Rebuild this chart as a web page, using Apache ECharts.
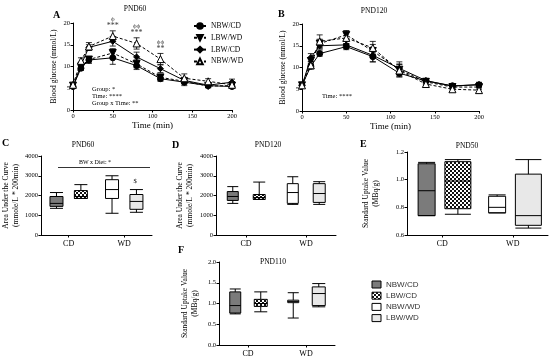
<!DOCTYPE html>
<html><head><meta charset="utf-8">
<script src="https://cdn.jsdelivr.net/npm/echarts@6/dist/echarts.min.js"></script>
<style>html,body{margin:0;padding:0;background:#fff}#c{width:550px;height:358px}</style>
</head><body><div id="c"></div>
<script>
// ---------- DATA ----------
const timePoints = [0, 10, 20, 50, 80, 110, 140, 170, 200];
const groupNames = ['NBW/CD', 'LBW/WD', 'LBW/CD', 'NBW/WD'];

// PND60 glucose (mean) and error
const pnd60_NBWCD = [5.4, 9.6, 11.5, 12.0, 10.2, 7.2, 6.4, 5.6, 5.4];
const pnd60_LBWWD = [5.6, 10.0, 11.6, 13.1, 10.6, 7.5, 6.6, 5.5, 5.6];
const pnd60_LBWCD = [5.3, 10.3, 14.4, 15.8, 12.2, 9.5, 6.8, 5.7, 6.4];
const pnd60_NBWWD = [5.8, 11.3, 14.6, 17.0, 15.3, 11.7, 7.3, 6.6, 5.8];
const pnd60_NBWCD_err = [0.3, 0.5, 0.8, 1.5, 0.9, 0.6, 0.8, 0.4, 0.4];
const pnd60_LBWWD_err = [0.3, 0.6, 0.6, 1.0, 0.9, 0.6, 0.6, 0.4, 0.4];
const pnd60_LBWCD_err = [0.3, 0.7, 0.6, 1.1, 1.1, 0.9, 0.7, 0.5, 0.7];
const pnd60_NBWWD_err = [0.3, 0.7, 0.9, 1.2, 1.3, 1.3, 1.0, 0.6, 0.5];

// PND120 glucose
const pnd120_NBWCD = [5.9, 10.3, 13.2, 14.8, 12.5, 8.7, 6.9, 5.8, 6.0];
const pnd120_LBWWD = [5.9, 11.5, 15.5, 17.5, 13.8, 9.5, 6.7, 5.5, 5.5];
const pnd120_LBWCD = [5.8, 12.3, 15.0, 15.2, 12.8, 9.8, 7.0, 5.7, 6.1];
const pnd120_NBWWD = [5.9, 10.5, 16.0, 16.8, 14.5, 9.3, 6.2, 5.0, 4.8];
const pnd120_NBWCD_err = [0.3, 0.6, 0.6, 0.7, 1.2, 0.8, 0.5, 0.5, 0.5];
const pnd120_LBWWD_err = [0.3, 0.8, 1.0, 1.0, 1.5, 1.2, 0.6, 0.5, 0.5];
const pnd120_LBWCD_err = [0.3, 0.9, 0.8, 0.8, 1.5, 1.5, 0.5, 0.5, 0.5];
const pnd120_NBWWD_err = [0.3, 0.8, 1.5, 1.3, 1.5, 1.5, 0.8, 0.5, 0.5];

// significance marks on PND60 (above NBW/WD)
const sigTimes = [50, 80, 110];
const sigPhi = ['ϕ', 'ϕϕ', 'ϕϕ'];
const sigStars = ['***', '***', '**'];

// Box plots: [min, Q1, median, Q3, max] for categories CD, WD
const dietCategories = ['CD', 'WD'];
const boxLegend = ['NBW/CD', 'LBW/CD', 'NBW/WD', 'LBW/WD'];
const aucPND60_NBW = [[1350, 1450, 1600, 1950, 2150], [1100, 1850, 2300, 2800, 3000]];
const aucPND60_LBW = [[1850, 1850, 1950, 2250, 2550], [1150, 1300, 1700, 2050, 2300]];
const aucPND120_NBW = [[1600, 1750, 1950, 2200, 2450], [1550, 1600, 2150, 2600, 2950]];
const aucPND120_LBW = [[1800, 1800, 1900, 2050, 2680], [1550, 1650, 2100, 2600, 2700]];
const suvPND50_NBW = [[0.74, 0.74, 0.92, 1.115, 1.125], [0.76, 0.76, 0.80, 0.88, 0.89]];
const suvPND50_LBW = [[0.75, 0.79, 0.99, 1.13, 1.145], [0.65, 0.67, 0.74, 1.04, 1.145]];
const suvPND110_NBW = [[0.75, 0.77, 0.95, 1.28, 1.35], [0.65, 1.02, 1.05, 1.08, 1.26]];
const suvPND110_LBW = [[0.80, 0.93, 1.00, 1.10, 1.28], [0.92, 0.95, 1.24, 1.40, 1.48]];

// ---------- STYLE ----------
const SERIF = 'Liberation Serif';
const pat = document.createElement('canvas');
pat.width = 4; pat.height = 4;
(function(){ const g = pat.getContext('2d'); g.fillStyle = '#fff'; g.fillRect(0,0,4,4);
  g.fillStyle = '#111'; g.fillRect(0,0,2,2); g.fillRect(2,2,2,2); })();
const checker = { image: pat, repeat: 'repeat' };
const boxFill = { 'NBW/CD': '#7b7b7b', 'LBW/CD': checker, 'NBW/WD': '#ffffff', 'LBW/WD': '#e8e8e8' };

const chart = echarts.init(document.getElementById('c'), null, { renderer: 'canvas' });

const tickLabel = { fontFamily: SERIF, fontSize: 6.5, color: '#000', margin: 3 };
const axLine = { show: true, lineStyle: { color: '#000', width: 1 } };
const axTick = { show: true, length: 2.5, lineStyle: { color: '#000' } };

function valY(gi, min, max, interval, name, gap, dec) {
  return {
    type: 'value', gridIndex: gi, min, max, interval,
    axisLine: axLine, axisTick: axTick, splitLine: { show: false },
    axisLabel: Object.assign({}, tickLabel, { formatter: v => dec ? v.toFixed(dec) : String(v) }),
    name, nameLocation: 'middle', nameGap: gap,
    nameTextStyle: { fontFamily: SERIF, fontSize: 7.5, color: '#000', lineHeight: 10 }
  };
}
function timeX(gi) {
  return {
    type: 'value', gridIndex: gi, min: 0, max: 200, interval: 50,
    axisLine: axLine, axisTick: axTick, splitLine: { show: false },
    axisLabel: tickLabel,
    name: 'Time (min)', nameLocation: 'middle', nameGap: 11,
    nameTextStyle: { fontFamily: SERIF, fontSize: 9, color: '#000' }
  };
}
function catX(gi) {
  return {
    type: 'category', gridIndex: gi, data: dietCategories,
    axisLine: axLine, axisTick: { show: true, alignWithLabel: true, length: 2.5, lineStyle: { color: '#000' } },
    axisLabel: { fontFamily: SERIF, fontSize: 8, color: '#000', margin: 5 }
  };
}

const markers = {
  'NBW/CD': { symbol: 'circle', size: 6, fill: '#000', dash: 'solid' },
  'LBW/WD': { symbol: 'triangle', size: 7, fill: '#000', dash: [3, 2], rotate: 180 },
  'LBW/CD': { symbol: 'diamond', size: 6, fill: '#000', dash: 'solid' },
  'NBW/WD': { symbol: 'triangle', size: 7, fill: '#fff', dash: [3, 2] }
};

function errRender(params, api) {
  const x = api.value(0), y = api.value(1), e = api.value(2);
  const hi = api.coord([x, y + e]), lo = api.coord([x, y - e]);
  const w = 3, st = { stroke: '#000', lineWidth: 0.8 };
  return { type: 'group', children: [
    { type: 'line', shape: { x1: hi[0], y1: hi[1], x2: lo[0], y2: lo[1] }, style: st },
    { type: 'line', shape: { x1: hi[0] - w, y1: hi[1], x2: hi[0] + w, y2: hi[1] }, style: st },
    { type: 'line', shape: { x1: lo[0] - w, y1: lo[1], x2: lo[0] + w, y2: lo[1] }, style: st }
  ]};
}

function glucoseSeries(gi, name, vals, errs) {
  const m = markers[name];
  return [
    { type: 'custom', name: 'err-' + gi + '-' + name, xAxisIndex: gi, yAxisIndex: gi,
      renderItem: errRender, data: timePoints.map((t, i) => [t, vals[i], errs[i]]), z: 3, silent: true },
    { type: 'line', name, xAxisIndex: gi, yAxisIndex: gi,
      data: timePoints.map((t, i) => [t, vals[i]]),
      symbol: m.symbol, symbolSize: m.size, symbolRotate: m.rotate || 0, showAllSymbol: true,
      itemStyle: { color: m.fill, borderColor: '#000', borderWidth: 1 },
      lineStyle: { color: '#000', width: 1, type: m.dash }, z: 4, animation: false }
  ];
}

function boxItems(values, groupsPerCat) {
  return values.map((v, i) => ({ value: v, itemStyle: { color: boxFill[groupsPerCat[i]], borderColor: '#000', borderWidth: 1 } }));
}
function boxSeries(gi, nbw, lbw, wN, wL) {
  const base = { type: 'boxplot', xAxisIndex: gi, yAxisIndex: gi, animation: false,
    itemStyle: { borderColor: '#000', borderWidth: 1 } };
  return [
    Object.assign({}, base, { name: 'NBW', boxWidth: [wN, wN], data: boxItems(nbw, ['NBW/CD', 'NBW/WD']) }),
    Object.assign({}, base, { name: 'LBW', boxWidth: [wL, wL], data: boxItems(lbw, ['LBW/CD', 'LBW/WD']) })
  ];
}

let series = [];
series = series.concat(glucoseSeries(0, 'NBW/CD', pnd60_NBWCD, pnd60_NBWCD_err));
series = series.concat(glucoseSeries(0, 'LBW/WD', pnd60_LBWWD, pnd60_LBWWD_err));
series = series.concat(glucoseSeries(0, 'LBW/CD', pnd60_LBWCD, pnd60_LBWCD_err));
series = series.concat(glucoseSeries(0, 'NBW/WD', pnd60_NBWWD, pnd60_NBWWD_err));
series = series.concat(glucoseSeries(1, 'NBW/CD', pnd120_NBWCD, pnd120_NBWCD_err));
series = series.concat(glucoseSeries(1, 'LBW/WD', pnd120_LBWWD, pnd120_LBWWD_err));
series = series.concat(glucoseSeries(1, 'LBW/CD', pnd120_LBWCD, pnd120_LBWCD_err));
series = series.concat(glucoseSeries(1, 'NBW/WD', pnd120_NBWWD, pnd120_NBWWD_err));

// significance labels
series.push({
  type: 'scatter', name: 'sig', xAxisIndex: 0, yAxisIndex: 0, symbolSize: 0, silent: true,
  data: sigTimes.map((t, k) => { const i = timePoints.indexOf(t); return { value: [t, pnd60_NBWWD[i] + pnd60_NBWWD_err[i]], k }; }),
  label: { show: true, position: 'top', distance: 1,
    formatter: p => '{p|' + sigPhi[p.data.k] + '}\n{s|' + sigStars[p.data.k] + '}',
    rich: { p: { fontFamily: SERIF, fontSize: 7, color: '#000', lineHeight: 7 },
            s: { fontFamily: SERIF, fontSize: 8, color: '#000', lineHeight: 7 } } },
  z: 5
});

series = series.concat(boxSeries(2, aucPND60_NBW, aucPND60_LBW, 13, 13));
series = series.concat(boxSeries(3, aucPND120_NBW, aucPND120_LBW, 11, 12));
series = series.concat(boxSeries(4, suvPND50_NBW, suvPND50_LBW, 17, 26));
series = series.concat(boxSeries(5, suvPND110_NBW, suvPND110_LBW, 11, 13));

function txt(x, y, text, size, opts) {
  return Object.assign({ type: 'text', x, y, style: Object.assign({ text, fontFamily: SERIF, fontSize: size, fill: '#000' }, opts || {}) });
}
const titleStyle = { textAlign: 'center', textVerticalAlign: 'middle' };
const letterStyle = { fontWeight: 'bold', textVerticalAlign: 'middle' };

const graphic = [
  txt(135, 9, 'PND60', 7.5, titleStyle),
  txt(374, 11, 'PND120', 7.5, titleStyle),
  txt(83, 145, 'PND60', 7.5, titleStyle),
  txt(268, 145, 'PND120', 7.5, titleStyle),
  txt(467, 146, 'PND50', 7.5, titleStyle),
  txt(273, 262, 'PND110', 7.5, titleStyle),
  txt(53, 15, 'A', 10, letterStyle),
  txt(278, 14, 'B', 10, letterStyle),
  txt(2, 143, 'C', 10, letterStyle),
  txt(172, 145, 'D', 10, letterStyle),
  txt(360, 144, 'E', 10, letterStyle),
  txt(178, 250, 'F', 10, letterStyle),
  txt(92, 89, 'Group: *', 6.5, { textVerticalAlign: 'middle' }),
  txt(92, 96, 'Time: ****', 6.5, { textVerticalAlign: 'middle' }),
  txt(92, 103.5, 'Group x Time: **', 6.5, { textVerticalAlign: 'middle' }),
  txt(322, 96, 'Time: ****', 6.5, { textVerticalAlign: 'middle' }),
  { type: 'line', shape: { x1: 58, y1: 167.5, x2: 150, y2: 167.5 }, style: { stroke: '#000', lineWidth: 0.8 } },
  txt(95, 162, 'BW x Diet: *', 6, titleStyle),
  txt(135, 181, '$', 6.5, titleStyle)
];
boxLegend.forEach((g, i) => {
  const y = 284.5 + i * 11.2;
  graphic.push({ type: 'rect', shape: { x: 372, y: y - 3.5, width: 9, height: 7 },
    style: { fill: boxFill[g], stroke: '#000', lineWidth: 1 } });
  graphic.push({ type: 'text', x: 386, y, style: { text: g, fontFamily: 'Liberation Sans', fontSize: 8, fill: '#333', textVerticalAlign: 'middle' } });
});

const option = {
  animation: false,
  backgroundColor: '#fff',
  grid: [
    { left: 73, top: 23, width: 159, height: 87 },
    { left: 302, top: 24, width: 177, height: 87 },
    { left: 40, top: 156, width: 112, height: 79 },
    { left: 216, top: 156, width: 120, height: 79 },
    { left: 407, top: 152, width: 141, height: 83 },
    { left: 219, top: 262, width: 116, height: 83 }
  ],
  xAxis: [timeX(0), timeX(1), catX(2), catX(3), catX(4), catX(5)],
  yAxis: [
    valY(0, 0, 20, 5, 'Blood glucose (mmol/L)', 14),
    valY(1, 0, 20, 5, 'Blood glucose (mmol/L)', 14),
    valY(2, 0, 4000, 1000, 'Area Under the Curve\n(mmole/L * 200min)', 14),
    valY(3, 0, 4000, 1000, 'Area Under the Curve\n(mmole/L * 200min)', 21),
    valY(4, 0.6, 1.2, 0.2, 'Standard Uptake Value\n(MBq/g)', 26, 1),
    valY(5, 0, 2, 0.5, 'Standard Uptake Value\n(MBq/g)', 19, 1)
  ],
  legend: {
    data: groupNames, left: 188, top: 17, orient: 'vertical',
    itemWidth: 12, itemHeight: 7, itemGap: 3.8,
    textStyle: { fontFamily: SERIF, fontSize: 7.5, color: '#000' }
  },
  graphic,
  series
};
chart.setOption(option);
</script></body></html>
